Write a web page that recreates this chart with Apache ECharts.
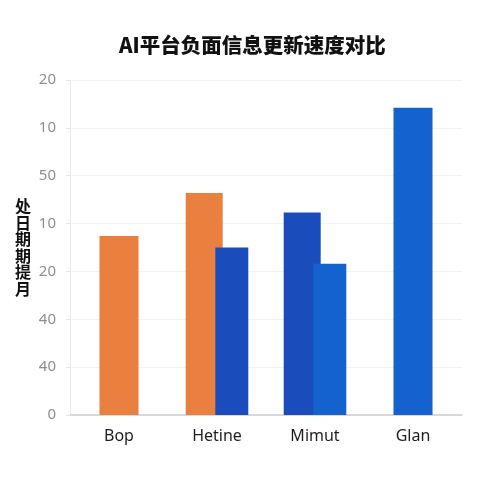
<!DOCTYPE html>
<html>
<head>
<meta charset="utf-8">
<script src="https://cdn.jsdelivr.net/npm/echarts@6/dist/echarts.min.js"></script>
<style>
html,body{margin:0;padding:0;background:#fff;}
#chart{width:480px;height:480px;}
</style>
</head>
<body>
<div id="chart"></div>
<script>
var titleText = 'AI平台负面信息更新速度对比';
var yAxisName = '处日期期提月';
var categories = ['Bop', 'Hetine', 'Mimut', 'Glan'];
// tick labels from bottom (position 0) to top (position 7)
var yTickLabels = ['0', '40', '40', '20', '10', '50', '10', '20'];
// values in axis-position units
var singleValues = [3.74, null, null, 6.42];
var pairFirstValues = [null, 4.64, 4.23, null];
var pairSecondValues = [null, 3.50, 3.16, null];

var ORANGE = '#E9803F';
var DARKBLUE = '#1B4CBC';
var BLUE = '#1462CE';
var singleColors = [ORANGE, null, null, BLUE];
var pairFirstColors = [null, ORANGE, DARKBLUE, null];
var pairSecondColors = [null, DARKBLUE, BLUE, null];

var chart = echarts.init(document.getElementById('chart'));
chart.setOption({
  backgroundColor: '#ffffff',
  animation: false,
  title: {
    text: titleText,
    left: 114,
    top: 30,
    textStyle: { fontSize: 20.5, fontWeight: 900, color: '#111', fontFamily: 'Noto Sans CJK SC' }
  },
  grid: { left: 70, right: 18, top: 80, bottom: 65 },
  xAxis: [{
    type: 'category',
    data: categories,
    axisLine: { lineStyle: { color: '#cfcfcf', width: 1.5 } },
    axisTick: { show: false },
    axisLabel: { color: '#1e1e1e', fontSize: 16, margin: 13, fontFamily: 'Noto Sans' }
  }, {
    type: 'category',
    data: categories,
    show: false
  }],
  yAxis: {
    type: 'value',
    min: 0,
    max: 7,
    interval: 1,
    name: yAxisName.split('').join('\n'),
    nameLocation: 'middle',
    nameRotate: 0,
    nameGap: 39,
    nameTextStyle: { fontSize: 16, fontWeight: 'bold', color: '#111', lineHeight: 16.5, fontFamily: 'Noto Sans CJK SC' },
    axisLine: { show: true, lineStyle: { color: '#ebebeb' } },
    axisTick: { show: true, length: 4, lineStyle: { color: '#e6e6e6' } },
    splitLine: { lineStyle: { color: '#f3f3f3' } },
    axisLabel: {
      color: '#8e8e8e', fontSize: 15, margin: 14, fontFamily: 'Noto Sans',
      formatter: function (v) { return yTickLabels[Math.round(v)]; }
    }
  },
  series: [{
    type: 'bar',
    xAxisIndex: 0,
    data: singleValues,
    barWidth: 39,
    itemStyle: { color: function (p) { return singleColors[p.dataIndex]; } }
  }, {
    type: 'bar',
    xAxisIndex: 1,
    data: pairFirstValues,
    barWidth: 37,
    barGap: '-20%',
    itemStyle: { color: function (p) { return pairFirstColors[p.dataIndex]; } }
  }, {
    type: 'bar',
    xAxisIndex: 1,
    data: pairSecondValues,
    barWidth: 33,
    barGap: '-20%',
    itemStyle: { color: function (p) { return pairSecondColors[p.dataIndex]; } }
  }]
});
</script>
</body>
</html>
